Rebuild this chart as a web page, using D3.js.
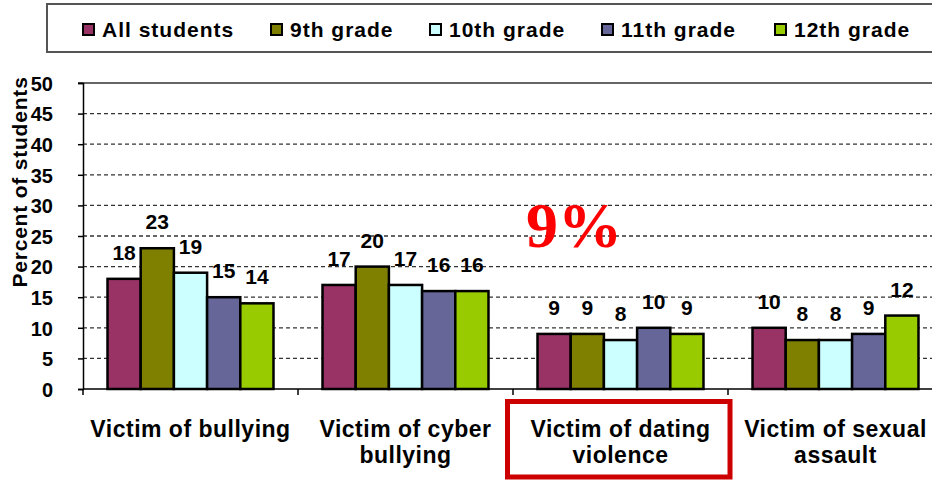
<!DOCTYPE html>
<html><head><meta charset="utf-8">
<script src="https://cdn.jsdelivr.net/npm/d3@7"></script>
<style>body{margin:0;background:#fff}svg{display:block}</style>
</head><body>
<svg id="c" width="932" height="481"></svg>
<script>
const categories = [["Victim of bullying"], ["Victim of cyber", "bullying"], ["Victim of dating", "violence"], ["Victim of sexual", "assault"]];
const seriesNames = ["All students", "9th grade", "10th grade", "11th grade", "12th grade"];
const seriesColors = ["#993366", "#808000", "#CCFFFF", "#666699", "#99CC00"];
const allStudents = [18, 17, 9, 10];
const grade9 = [23, 20, 9, 8];
const grade10 = [19, 17, 8, 8];
const grade11 = [15, 16, 10, 9];
const grade12 = [14, 16, 9, 12];
const yTicks = [0, 5, 10, 15, 20, 25, 30, 35, 40, 45, 50];
const seriesValues = [allStudents, grade9, grade10, grade11, grade12];

(function () {
const svg = d3.select("#c");
const font = "'Liberation Sans', Arial, sans-serif";
const pLeft = 83, pRight = 943, pTop = 83, pBottom = 389;

const y = d3.scaleLinear().domain([0, 50]).range([pBottom, pTop]);
const x0 = d3.scaleBand().domain(d3.range(categories.length)).range([pLeft, pRight]).paddingInner(0.228).paddingOuter(0.114);
const x1 = d3.scaleBand().domain(d3.range(seriesNames.length)).range([0, x0.bandwidth()]);

// gridlines
svg.append("g").selectAll("line").data(yTicks.filter(t => t > 0 && t < 50)).join("line")
  .attr("x1", pLeft).attr("x2", 932).attr("y1", d => y(d)).attr("y2", d => y(d))
  .attr("stroke", "#333").attr("stroke-width", 1.3).attr("stroke-dasharray", "4,3");
// top border
svg.append("line").attr("x1", pLeft - 5).attr("x2", 932).attr("y1", y(50)).attr("y2", y(50))
  .attr("stroke", "#333").attr("stroke-width", 1.5);

// y axis
const yAxis = d3.axisLeft(y).tickValues(yTicks).tickSize(5).tickPadding(8);
const ya = svg.append("g").attr("transform", `translate(${pLeft},0)`).call(yAxis);
ya.select(".domain").attr("stroke", "#000").attr("stroke-width", 1.5);
ya.selectAll(".tick line").attr("stroke", "#000").attr("stroke-width", 1.5);
ya.selectAll("text").attr("font-family", font).attr("font-size", 20).attr("font-weight", "bold")
  .attr("fill", "#000").attr("dy", "0.36em");
ya.selectAll(".tick text").attr("x", -30);

svg.append("text").attr("transform", `translate(27,182) rotate(-90)`)
  .attr("text-anchor", "middle").attr("font-family", font).attr("font-size", 21).attr("font-weight", "bold")
  .attr("letter-spacing", 0.8).attr("fill", "#000").text("Percent of students");

// bars
const groups = svg.append("g").selectAll("g").data(categories).join("g")
  .attr("transform", (d, i) => `translate(${x0(i)},0)`);
groups.each(function (c, ci) {
  const g = d3.select(this);
  seriesValues.forEach((vals, si) => {
    g.append("rect").attr("x", x1(si)).attr("y", y(vals[ci])).attr("width", x1.bandwidth())
      .attr("height", y(0) - y(vals[ci])).attr("fill", seriesColors[si])
      .attr("stroke", "#000").attr("stroke-width", 2.5);
    g.append("text").attr("x", x1(si) + x1.bandwidth() / 2).attr("y", y(vals[ci]) - 19)
      .attr("text-anchor", "middle").attr("font-family", font).attr("font-size", 21).attr("font-weight", "bold")
      .attr("fill", "#000").text(vals[ci]);
  });
});

// x axis
svg.append("line").attr("x1", pLeft).attr("x2", 932).attr("y1", pBottom).attr("y2", pBottom)
  .attr("stroke", "#000").attr("stroke-width", 1.5);
const bounds = d3.range(categories.length + 1).map(i => pLeft + i * (pRight - pLeft) / categories.length);
svg.append("g").selectAll("line").data(bounds).join("line")
  .attr("x1", d => d).attr("x2", d => d).attr("y1", pBottom).attr("y2", pBottom + 6)
  .attr("stroke", "#000").attr("stroke-width", 1.5);

// category labels
categories.forEach((lines, i) => {
  const cx = x0(i) + x0.bandwidth() / 2;
  const t = svg.append("text").attr("text-anchor", "middle").attr("font-family", font)
    .attr("font-size", 23).attr("font-weight", "bold").attr("letter-spacing", 0.5).attr("fill", "#000");
  lines.forEach((l, k) => t.append("tspan").attr("x", cx).attr("y", 437 + k * 26).text(l));
});

// highlight box
svg.append("rect").attr("x", 507.5).attr("y", 401.5).attr("width", 222.5).attr("height", 75.5)
  .attr("fill", "none").attr("stroke", "#CC0000").attr("stroke-width", 5);

// 9% annotation
svg.append("text").attr("x", 526).attr("y", 247).attr("font-family", "'Liberation Serif', 'Times New Roman', serif")
  .attr("font-size", 64).attr("font-weight", "bold").attr("fill", "#FF0000").text("9%");

// legend
svg.append("rect").attr("x", 47).attr("y", 4).attr("width", 900).attr("height", 48)
  .attr("fill", "#fff").attr("stroke", "#555").attr("stroke-width", 2);
const legX = [82, 270, 429, 601, 774];
seriesNames.forEach((n, i) => {
  svg.append("rect").attr("x", legX[i] + 1).attr("y", 24).attr("width", 11).attr("height", 11)
    .attr("fill", seriesColors[i]).attr("stroke", "#000").attr("stroke-width", 2);
  svg.append("text").attr("x", legX[i] + 20).attr("y", 37).attr("font-family", font)
    .attr("font-size", 21).attr("font-weight", "bold").attr("letter-spacing", 1).attr("fill", "#000").text(n);
});
})();
</script>
</body></html>
